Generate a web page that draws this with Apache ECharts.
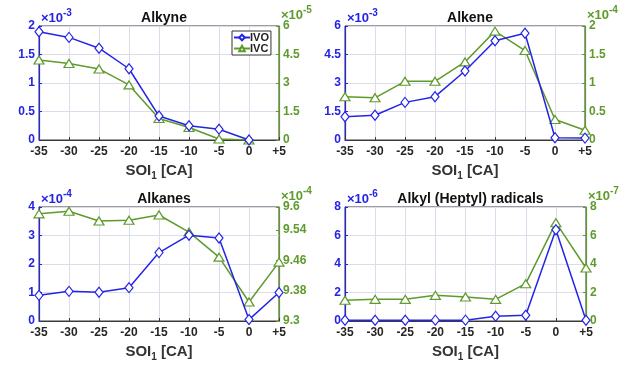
<!DOCTYPE html>
<html><head><meta charset="utf-8">
<script src="https://cdn.jsdelivr.net/npm/echarts@6/dist/echarts.min.js"></script>
<style>html,body{margin:0;padding:0;background:#fff}#c{width:638px;height:367px}</style>
</head><body><div id="c"></div>
<script>
// x categories (SOI1, CA)
const soi = [-35, -30, -25, -20, -15, -10, -5, 0, 5];
// Alkyne: IVO in 1e-3, IVC in 1e-5
const alkyneIVO = [1.90, 1.80, 1.61, 1.25, 0.42, 0.25, 0.19, 0.0, null];
const alkyneIVC = [4.21, 4.03, 3.74, 2.90, 1.13, 0.66, 0.05, 0.0, null];
// Alkene: IVO in 1e-3, IVC in 1e-4
const alkeneIVO = [1.22, 1.30, 1.98, 2.28, 3.63, 5.22, 5.62, 0.12, 0.10];
const alkeneIVC = [0.76, 0.74, 1.03, 1.03, 1.37, 1.91, 1.57, 0.36, 0.17];
// Alkanes: IVO in 1e-4, IVC in 1e-4
const alkanesIVO = [0.90, 1.04, 1.01, 1.17, 2.40, 3.01, 2.91, 0.05, 1.00];
const alkanesIVC = [9.582, 9.589, 9.563, 9.565, 9.579, 9.534, 9.468, 9.350, 9.455];
// Alkyl (Heptyl) radicals: IVO in 1e-6, IVC in 1e-7
const alkylIVO = [0.05, 0.05, 0.05, 0.06, 0.06, 0.33, 0.40, 6.40, 0.05];
const alkylIVC = [1.45, 1.52, 1.52, 1.80, 1.68, 1.52, 2.62, 6.90, 3.72];

const titles = ['Alkyne', 'Alkene', 'Alkanes', 'Alkyl (Heptyl) radicals'];
const leftExp = ['-3', '-3', '-4', '-6'];
const rightExp = ['-5', '-4', '-4', '-7'];
const leftAxes = [[0, 2, 0.5], [0, 6, 1.5], [0, 4, 1], [0, 8, 2]];
const rightAxes = [[0, 6, 1.5], [0, 2, 0.5], [9.3, 9.6, 0.08], [0, 8, 2]];
const ivoSets = [alkyneIVO, alkeneIVO, alkanesIVO, alkylIVO];
const ivcSets = [alkyneIVC, alkeneIVC, alkanesIVC, alkylIVC];

const BLUE = '#2424e6', GREEN = '#5e9a2c', AX = '#3a3a3a';
const FONT = 'Liberation Sans, Arial, sans-serif';
const grids = [
  {left: 39, top: 26, width: 240, height: 114},
  {left: 345, top: 26, width: 240, height: 114},
  {left: 39, top: 207, width: 240, height: 114},
  {left: 345, top: 207, width: 241, height: 114}
];

const option = {
  animation: false,
  backgroundColor: '#fff',
  textStyle: {fontFamily: FONT},
  title: [], grid: [], xAxis: [], yAxis: [], series: [], graphic: [],
  legend: {
    data: ['IVO', 'IVC'], orient: 'vertical', left: 232, top: 31,
    backgroundColor: '#fff', borderColor: '#333', borderWidth: 1,
    padding: [1, 2, 1, 1], itemGap: 0, itemWidth: 16, itemHeight: 7,
    textStyle: {fontFamily: FONT, fontWeight: 'bold', fontSize: 11, color: '#222', padding: [0, 0, 0, -5]}
  }
};

grids.forEach((g, i) => {
  option.grid.push(Object.assign({show: true, borderColor: AX, borderWidth: 1, containLabel: false}, g));
  option.title.push({
    text: titles[i], left: g.left + g.width / 2, top: g.top - 20, textAlign: 'center',
    textStyle: {fontFamily: FONT, fontWeight: 'bold', fontSize: 14, color: '#111'}
  });
  option.xAxis.push({
    type: 'value', gridIndex: i, min: -35, max: 5, interval: 5,
    name: 'SOI{s|1} [CA]', nameLocation: 'middle', nameGap: 21,
    nameTextStyle: {fontFamily: FONT, fontWeight: 'bold', fontSize: 15, color: '#333',
      rich: {s: {fontFamily: FONT, fontWeight: 'bold', fontSize: 10, color: '#333', verticalAlign: 'bottom', padding: [10, 0, 0, 0]}}},
    axisLine: {onZero: false, lineStyle: {color: AX, width: 1}},
    axisTick: {inside: true, length: 3, lineStyle: {color: AX}},
    axisLabel: {fontFamily: FONT, fontWeight: 'bold', fontSize: 12, color: '#262626', margin: 6,
      formatter: v => v > 0 ? '+' + v : String(v)},
    splitLine: {show: true, lineStyle: {color: '#dcdcea', width: 1}}
  });
  const la = leftAxes[i], ra = rightAxes[i];
  option.yAxis.push({
    type: 'value', gridIndex: i, position: 'left', min: la[0], max: la[1], interval: la[2],
    axisLine: {show: true, onZero: false, lineStyle: {color: BLUE, width: 1.2}},
    axisTick: {show: true, inside: true, length: 3, lineStyle: {color: BLUE}},
    axisLabel: {fontFamily: FONT, fontWeight: 'bold', fontSize: 12, color: BLUE, margin: 4},
    splitLine: {show: true, lineStyle: {color: '#dcdcea', width: 1}}
  });
  option.yAxis.push({
    type: 'value', gridIndex: i, position: 'right', min: ra[0], max: ra[1], interval: ra[2],
    axisLine: {show: true, onZero: false, lineStyle: {color: GREEN, width: 1.2}},
    axisTick: {show: true, inside: true, length: 3, lineStyle: {color: GREEN}},
    axisLabel: {fontFamily: FONT, fontWeight: 'bold', fontSize: 12, color: GREEN, margin: 4,
      formatter: v => String(Math.round(v * 1000) / 1000)},
    splitLine: {show: false}
  });
  option.series.push({
    name: 'IVO', type: 'line', xAxisIndex: i, yAxisIndex: 2 * i,
    data: soi.map((x, k) => [x, ivoSets[i][k]]),
    symbol: 'diamond', symbolSize: [8, 10], showAllSymbol: true,
    lineStyle: {color: BLUE, width: 1.5},
    itemStyle: {color: '#fff', borderColor: BLUE, borderWidth: 1.2}, z: 3
  });
  option.series.push({
    name: 'IVC', type: 'line', xAxisIndex: i, yAxisIndex: 2 * i + 1,
    data: soi.map((x, k) => [x, ivcSets[i][k]]),
    symbol: 'triangle', symbolSize: [10, 8], showAllSymbol: true,
    lineStyle: {color: GREEN, width: 1.5},
    itemStyle: {color: '#fff', borderColor: GREEN, borderWidth: 1.2}, z: 2
  });
  // exponent labels
  const ty = g.top - 5;
  option.graphic.push({type: 'text', left: g.left + 2, top: ty - 9,
    style: {text: '×10', fill: BLUE, font: 'bold 13px ' + FONT}});
  option.graphic.push({type: 'text', left: g.left + 24, top: ty - 13,
    style: {text: leftExp[i], fill: BLUE, font: 'bold 10px ' + FONT}});
  const rx = g.left + g.width + 2;
  option.graphic.push({type: 'text', left: rx, top: ty - 12,
    style: {text: '×10', fill: GREEN, font: 'bold 13px ' + FONT}});
  option.graphic.push({type: 'text', left: rx + 22, top: ty - 16,
    style: {text: rightExp[i], fill: GREEN, font: 'bold 10px ' + FONT}});
});

const chart = echarts.init(document.getElementById('c'), null, {renderer: 'canvas'});
chart.setOption(option);
</script></body></html>
